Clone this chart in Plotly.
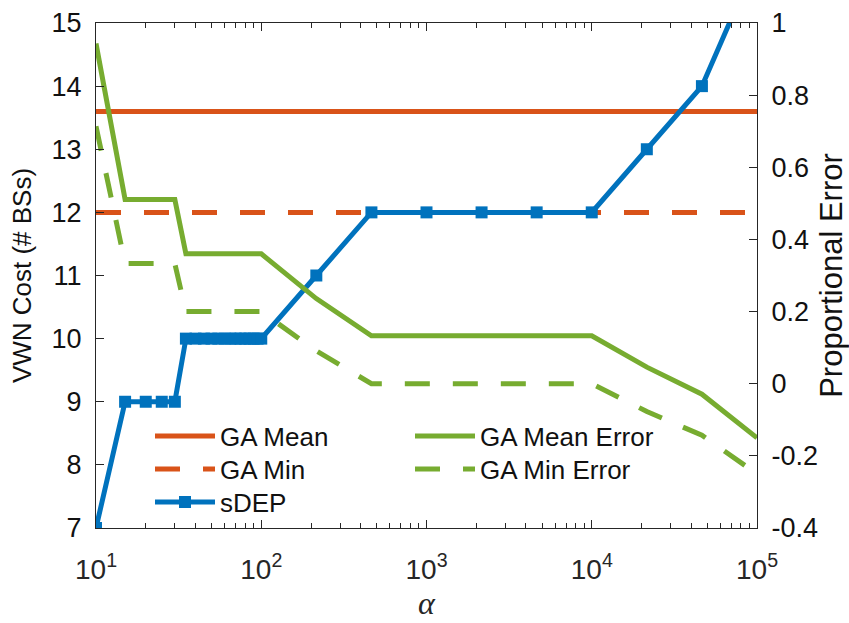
import plotly.graph_objects as go

# ---- data ----
alpha = [10, 15, 20, 25, 30, 35, 40, 45, 50, 55, 60, 65, 70, 75, 80, 85, 90, 95, 100,
         215.4, 464.2, 1000, 2154, 4642, 10000, 21544, 46416, 100000]
sdep = [7, 9, 9, 9, 9, 10, 10, 10, 10, 10, 10, 10, 10, 10, 10, 10, 10, 10, 10,
        11, 12, 12, 12, 12, 12, 13, 14, 16]
ga_mean_err = [0.943, 0.511, 0.511, 0.511, 0.511, 0.36, 0.36, 0.36, 0.36, 0.36, 0.36, 0.36,
               0.36, 0.36, 0.36, 0.36, 0.36, 0.36, 0.36,
               0.236, 0.133, 0.133, 0.133, 0.133, 0.133, 0.046, -0.029, -0.15]
ga_min_err = [0.714, 0.333, 0.333, 0.333, 0.333, 0.2, 0.2, 0.2, 0.2, 0.2, 0.2, 0.2,
              0.2, 0.2, 0.2, 0.2, 0.2, 0.2, 0.2,
              0.091, 0.0, 0.0, 0.0, 0.0, 0.0, -0.077, -0.143, -0.25]
ga_x = [10, 100000]
ga_mean = [13.6, 13.6]
ga_min = [12, 12]
x_tick_vals = [10, 100, 1000, 10000, 100000]
x_tick_text = ["10<sup>1</sup>", "10<sup>2</sup>", "10<sup>3</sup>", "10<sup>4</sup>", "10<sup>5</sup>"]
y_ticks = [7, 8, 9, 10, 11, 12, 13, 14, 15]
y2_ticks = [-0.4, -0.2, 0, 0.2, 0.4, 0.6, 0.8, 1]
y2_text = ["-0.4", "-0.2", "0", "0.2", "0.4", "0.6", "0.8", "1"]

BLUE = "#0072BD"
ORANGE = "#D95319"
GREEN = "#77AC30"
AX = "#262626"
TXT = "#111111"
FONT = "Arial, Liberation Sans, sans-serif"

fig = go.Figure()
fig.add_trace(go.Scatter(x=ga_x, y=ga_mean, mode="lines", name="GA Mean", legend="legend",
                         line=dict(color=ORANGE, width=5)))
fig.add_trace(go.Scatter(x=ga_x, y=ga_min, mode="lines", name="GA Min", legend="legend2",
                         line=dict(color=ORANGE, width=5, dash="25px,23px")))
fig.add_trace(go.Scatter(x=alpha, y=sdep, mode="lines+markers", name="sDEP", legend="legend3",
                         line=dict(color=BLUE, width=5),
                         marker=dict(symbol="square", size=12, color=BLUE)))
fig.add_trace(go.Scatter(x=alpha, y=ga_mean_err, mode="lines", name="GA Mean Error", legend="legend4",
                         line=dict(color=GREEN, width=5), yaxis="y2"))
fig.add_trace(go.Scatter(x=alpha, y=ga_min_err, mode="lines", name="GA Min Error", legend="legend5",
                         line=dict(color=GREEN, width=5, dash="25px,23px"), yaxis="y2"))

minor_vals = []
for d in [10, 100, 1000, 10000]:
    for k in range(2, 10):
        minor_vals.append(d * k)

# plot area in px: x 96..757, y 23..528
def lx(px):
    return (px - 96) / 661.0

def ly(py):
    return (528 - py) / 505.0

def leg(px, py):
    return dict(x=lx(px), y=ly(py), xanchor="left", yanchor="middle",
                bgcolor="rgba(0,0,0,0)", font=dict(size=26, color=TXT, family=FONT),
                itemwidth=60, borderwidth=0)

fig.update_layout(
    width=849, height=623,
    margin=dict(l=96, r=92, t=23, b=95),
    paper_bgcolor="white", plot_bgcolor="white",
    font=dict(family=FONT, color=AX, size=26),
    showlegend=True,
    legend=leg(150, 436),
    legend2=leg(150, 469),
    legend3=leg(150, 502),
    legend4=leg(410, 436),
    legend5=leg(410, 469),
    xaxis=dict(type="log", range=[1, 5], tickmode="array", tickvals=x_tick_vals, ticktext=x_tick_text,
               showgrid=False, zeroline=False, automargin=False,
               showline=True, linecolor=AX, linewidth=1, mirror="ticks",
               ticks="inside", ticklen=8, tickcolor=AX,
               minor=dict(tickmode="array", tickvals=minor_vals, ticks="inside", ticklen=5, tickcolor=AX),
               tickfont=dict(size=28, color=AX), ticklabelstandoff=16,
               title=dict(text="<i>α</i>", font=dict(family="Times New Roman, Liberation Serif, serif", size=32, color=AX),
                          standoff=8)),
    yaxis=dict(range=[7, 15], tickmode="array", tickvals=y_ticks, showgrid=False, zeroline=False,
               showline=True, linecolor=AX, linewidth=1, automargin=False,
               ticks="inside", ticklen=8, tickcolor=AX,
               tickfont=dict(size=27, color=TXT), ticklabelstandoff=8,
               title=dict(text="VWN Cost (# BSs)", font=dict(size=26, color=TXT), standoff=12)),
    yaxis2=dict(range=[-0.4, 1], tickmode="array", tickvals=y2_ticks, ticktext=y2_text,
                overlaying="y", side="right", showgrid=False, zeroline=False,
                showline=True, linecolor=AX, linewidth=1, automargin=False,
                ticks="inside", ticklen=8, tickcolor=AX,
                tickfont=dict(size=27, color=TXT), ticklabelstandoff=8,
                title=dict(text="Proportional Error", font=dict(size=31, color=TXT), standoff=8)),
)

fig.write_html("out.html")
